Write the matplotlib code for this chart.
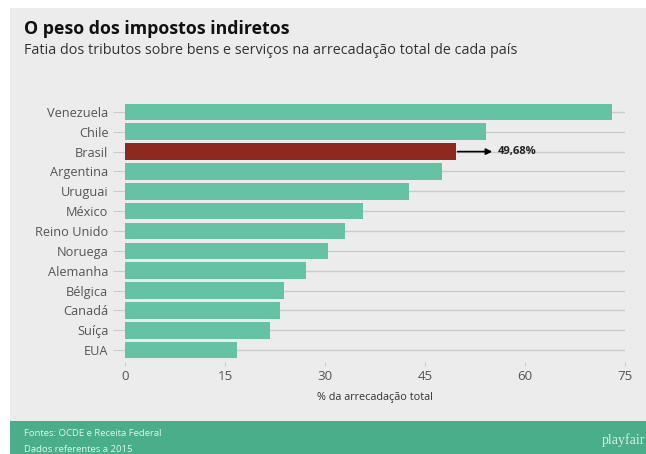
import matplotlib
matplotlib.use("Agg")
from matplotlib import pyplot as plt
from matplotlib.patches import Rectangle

# --------- data ------------------------------------
paises = ["Venezuela", "Chile", "Brasil", "Argentina", "Uruguai", "México",
          "Reino Unido", "Noruega", "Alemanha", "Bélgica", "Canadá", "Suíça", "EUA"]
valores = [73.0, 54.1, 49.68, 47.6, 42.6, 35.7, 33.0, 30.5, 27.2, 23.85, 23.25, 21.8, 16.85]
destaque = "Brasil"
xticks = [0, 15, 30, 45, 60, 75]

W, H = 646, 454
plt.rcParams['font.family'] = ['Open Sans', 'DejaVu Sans']

fig = plt.figure(figsize=(W / 100, H / 100), dpi=100, facecolor="white")

# background panels (pixel coords -> figure fractions)
def px(x0, y0, x1, y1):
    return (x0 / W, 1 - y1 / H, (x1 - x0) / W, (y1 - y0) / H)

bx, by, bw, bh = px(10, 8, W, 421)
fig.patches.append(Rectangle((bx, by), bw, bh, transform=fig.transFigure,
                             facecolor="#ececec", edgecolor="none", zorder=-2))
gx, gy, gw, gh = px(10, 421, W, H)
fig.patches.append(Rectangle((gx, gy), gw, gh, transform=fig.transFigure,
                             facecolor="#4aae8b", edgecolor="none", zorder=-2))

ax = fig.add_axes(px(125, 100, 625, 362))
ax.set_facecolor("none")
ax.set_zorder(1)

cores = ["#8c2a1f" if p == destaque else "#66c2a5" for p in paises]
ypos = list(range(len(paises)))
ax.barh(ypos, valores, height=0.84, color=cores, zorder=3)

ax.set_xlim(0, 75)
ax.set_ylim(12.6, -0.6)
ax.set_yticks(ypos)
ax.set_yticklabels(paises)
ax.set_xticks(xticks)
ax.set_xticklabels([str(t) for t in xticks])
ax.grid(axis="y", color="#cbcbcb", linewidth=1, zorder=1)
ax.grid(axis="x", visible=False)
for s in ax.spines.values():
    s.set_visible(False)
ax.tick_params(axis="y", length=9, width=0.8, color="#cbcbcb", labelsize=9.2,
               labelcolor="#555555", pad=3)
ax.tick_params(axis="x", length=3, width=0.8, color="#cbcbcb", labelsize=9.6,
               labelcolor="#555555", pad=3)
ax.set_xlabel("% da arrecadação total", fontsize=7.8, color="#333333", labelpad=6)

# arrow + value label for the highlighted bar
i = paises.index(destaque)
v = valores[i]
ax.annotate("", xy=(v + 5.4, i), xytext=(v + 0.2, i),
            arrowprops=dict(arrowstyle="-|>", color="black", lw=1.2,
                            mutation_scale=9, shrinkA=0, shrinkB=0), zorder=4)
ax.text(v + 6.2, i, "{:.2f}%".format(v).replace(".", ","), va="center",
        ha="left", fontsize=8, fontweight="bold", color="#222222")

# titles
fig.text(24 / W, 1 - 29 / H, "O peso dos impostos indiretos", fontsize=12.8,
         fontweight="bold", color="#111111", va="center", ha="left")
fig.text(24 / W, 1 - 51 / H,
         "Fatia dos tributos sobre bens e serviços na arrecadação total de cada país",
         fontsize=10.4, color="#333333", va="center", ha="left")

# footer
fig.text(24 / W, 1 - 433 / H, "Fontes: OCDE e Receita Federal", fontsize=6.8,
         color="#e3f3ec", va="center", ha="left")
fig.text(24 / W, 1 - 450 / H, "Dados referentes a 2015", fontsize=6.8,
         color="#e3f3ec", va="center", ha="left")
fig.text(645 / W, 1 - 440 / H, "playfair", fontsize=10, family="Liberation Serif",
         color="#d6eee3", va="center", ha="right")

fig.savefig("out.png", dpi=100, facecolor=fig.get_facecolor())
